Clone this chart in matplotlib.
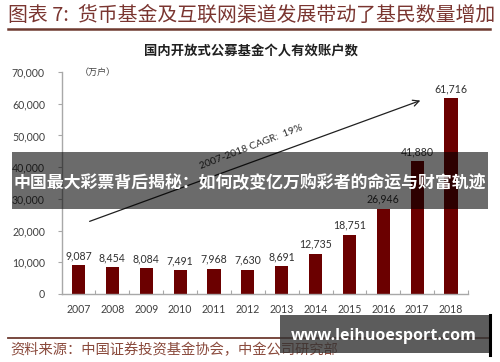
import matplotlib
matplotlib.use("Agg")
import matplotlib.pyplot as plt
from matplotlib.patches import Rectangle
from matplotlib.lines import Line2D

years = ["2007", "2008", "2009", "2010", "2011", "2012", "2013", "2014", "2015", "2016", "2017", "2018"]
accounts = [9087, 8454, 8084, 7491, 7968, 7630, 8691, 12735, 18751, 26946, 41880, 61716]
yticks = [0, 10000, 20000, 30000, 40000, 50000, 60000, 70000]

title = "图表 7:  货币基金及互联网渠道发展带动了基民数量增加"
subtitle = "国内开放式公募基金个人有效账户数"
unit = "（万户）"
cagr_text = "2007-2018 CAGR:  19%"
band_text = "中国最大彩票背后揭秘：如何改变亿万购彩者的命运与财富轨迹"
source_text = "资料来源：中国证券投资基金协会，中金公司研究部"
site_text = "www.leihuoesport.com"

W, H = 500, 362
CJK = ["Noto Sans CJK SC", "DejaVu Sans"]
NUM = ["Lato", "DejaVu Sans"]

fig = plt.figure(figsize=(W / 100, H / 100), dpi=100)
fig.patch.set_facecolor("white")

def fx(px):
    return px / W

def fy(py):
    return 1 - py / H

# axes: y=0 at py 294, y=70000 at py 72; x from 61.6 to 468
ax = fig.add_axes([fx(61.6), fy(294), fx(468) - fx(61.6), fy(72) - fy(294)])
ax.set_facecolor("none")
x = list(range(len(years)))
bar_color = "#6b0000"
ax.bar(x, accounts, width=0.39, color=bar_color, zorder=2)
ax.set_xlim(-0.5, len(years) - 0.5)
ax.set_ylim(0, 70000)

for s in ["top", "right"]:
    ax.spines[s].set_visible(False)
for s in ["left", "bottom"]:
    ax.spines[s].set_color("#a8a8a8")
    ax.spines[s].set_linewidth(1.0)

ax.set_yticks(yticks)
ax.set_yticklabels([f"{v:,}" for v in yticks], fontfamily=NUM, fontsize=7.6, color="#404040")
ax.tick_params(axis="y", length=3, width=0.8, color="#a8a8a8", pad=9)
ax.set_xticks(x)
ax.set_xticklabels(years, fontfamily=NUM, fontsize=7.6, color="#404040")
ax.tick_params(axis="x", length=0, pad=7)
ax.set_xticks([i + 0.5 for i in x], minor=True)
ax.tick_params(axis="x", which="minor", length=3, width=0.8, color="#a8a8a8", direction="in")

for xi, v in zip(x, accounts):
    ax.annotate(f"{v:,}", (xi, v), xytext=(0, 3), textcoords="offset points",
                ha="center", va="bottom", fontfamily=NUM, fontsize=7.6, color="#303030")

# CAGR arrow
ax.annotate("", xy=(10.17, 61300), xytext=(0.25, 22600),
            arrowprops=dict(arrowstyle="->", color="#202020", lw=0.9, mutation_scale=11))
ax.text(5.1, 46500, cagr_text, rotation=21, rotation_mode="anchor", ha="center", va="center",
        fontfamily=NUM, fontsize=7.4, color="#303030")

ax.text(0.05, 70000, unit, ha="left", va="center", fontfamily=CJK, fontsize=6.5, color="#404040")

# title and rules
fig.text(fx(8), fy(15), title, ha="left", va="center", fontfamily=CJK, fontsize=14.3,
         color="#7a3530", fontstyle="italic")
fig.add_artist(Line2D([fx(8), fx(490)], [fy(28.5), fy(28.5)], color="#6e3a30", lw=1.8))
fig.text(fx(251), fy(51), subtitle, ha="center", va="center", fontfamily=CJK, fontsize=9.6,
         fontweight="bold", color="#202020")

# source
fig.add_artist(Line2D([fx(8), fx(490)], [fy(338), fy(338)], color="#6e3a30", lw=1.3))
fig.text(fx(10), fy(350), source_text, ha="left", va="center", fontfamily=CJK, fontsize=10.3,
         color="#8a4a3c", fontstyle="italic")

# overlay band
fig.add_artist(Rectangle((fx(12), fy(209)), fx(488) - fx(12), fy(152) - fy(209),
                         transform=fig.transFigure, facecolor="black", alpha=0.58,
                         edgecolor="none", zorder=10))
fig.text(fx(250), fy(184), band_text, ha="center", va="center", fontfamily=CJK, fontsize=12.2,
         fontweight="bold", color="white", zorder=11)

# site box
fig.add_artist(Rectangle((fx(280), fy(353)), fx(489) - fx(280), fy(315) - fy(353),
                         transform=fig.transFigure, facecolor="#333333", alpha=0.8,
                         edgecolor="none", zorder=10))
fig.add_artist(Line2D([fx(490), fx(490)], [fy(315), fy(355)], color="black", lw=2.2, zorder=11))
fig.text(fx(384), fy(336), site_text, ha="center", va="center", fontfamily=["Open Sans", "DejaVu Sans"],
         fontsize=11.5, fontweight="bold", color="white", zorder=12)

fig.savefig("out.png", dpi=100, facecolor="white")
